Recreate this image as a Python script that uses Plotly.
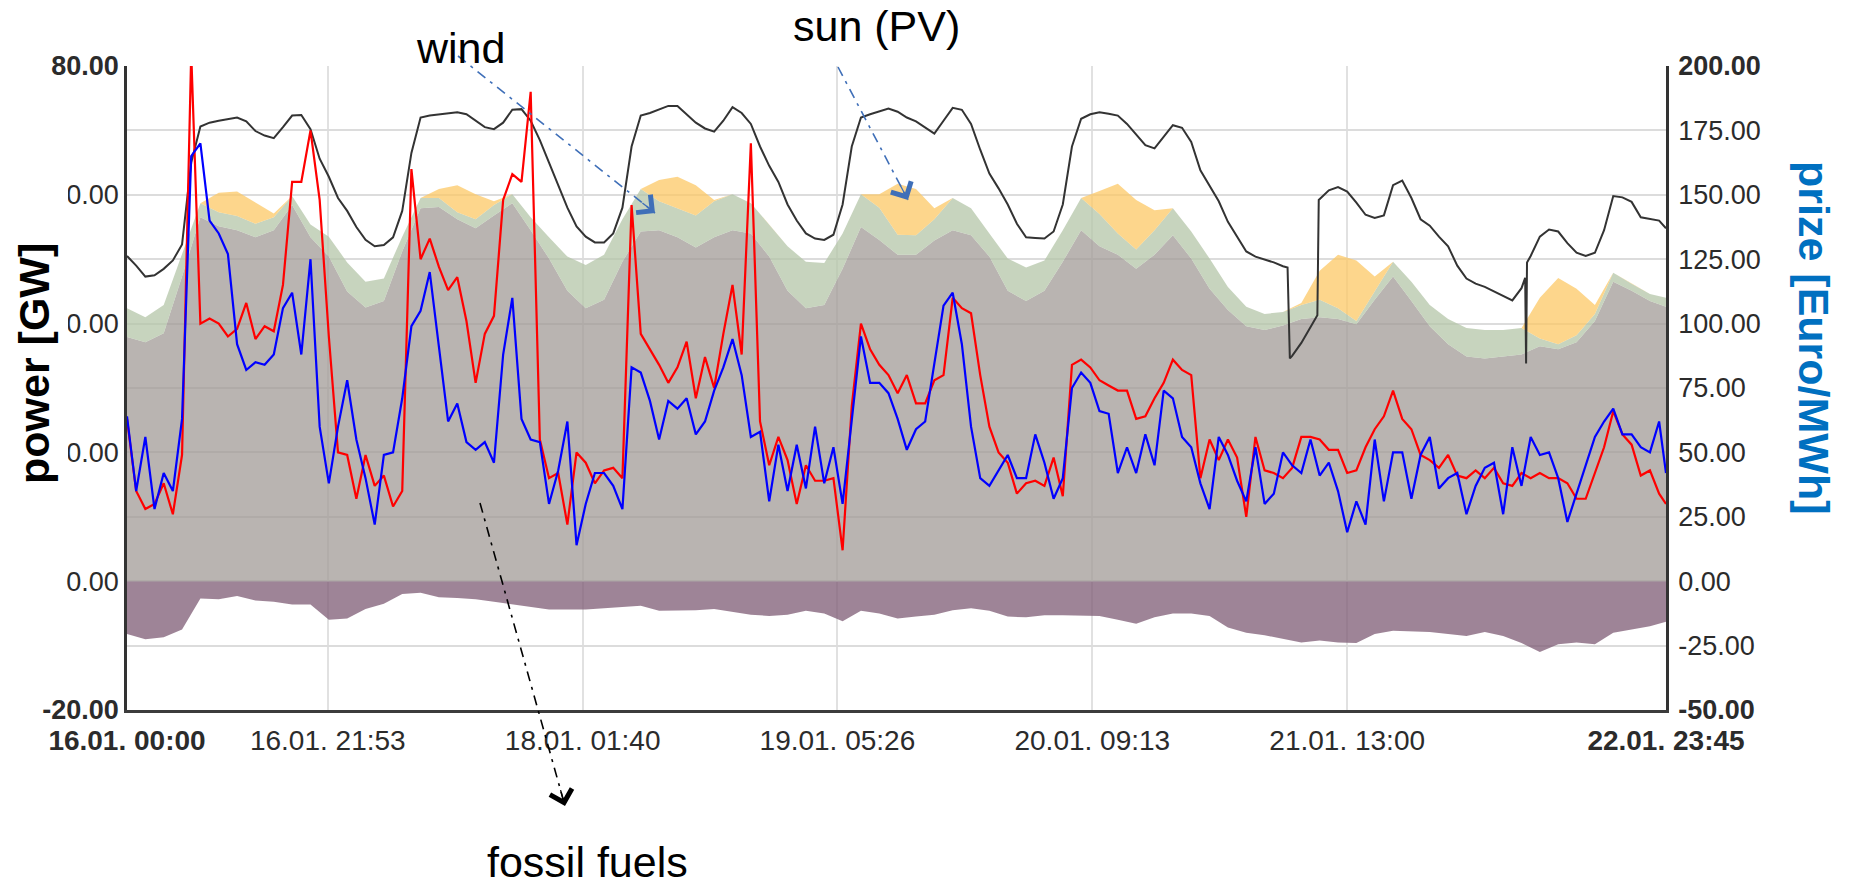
import pandas as pd
import plotly.graph_objects as go

# ---------------- data ----------------
START = pd.Timestamp("2018-01-16 00:00")

# 2-hourly grid for the generation / exchange areas (hours after start)
area_hours = list(range(0, 168, 2)) + [167.75]

fossil_gw = [37.9, 37.1, 38.5, 47.3, 56.5, 55.1, 54.5, 53.4, 54.5, 58.4, 53.4, 50.4, 45.0, 42.5, 43.5, 51.2,
             57.9, 58.1, 56.2, 54.8, 56.8, 58.7, 54.5, 50.1, 45.1, 42.4, 43.7, 49.6, 54.3, 54.5, 53.4, 51.8,
             53.4, 54.5, 54.0, 50.4, 45.1, 42.4, 42.9, 48.5, 55.0, 53.0, 50.7, 50.7, 52.9, 54.5, 53.7, 50.4,
             45.1, 43.5, 45.1, 49.6, 54.5, 52.0, 50.7, 48.5, 50.7, 53.7, 50.1, 45.4, 42.1, 39.6, 39.0, 39.7,
             40.7, 41.0, 40.7, 39.9, 43.7, 47.3, 43.5, 39.6, 36.8, 34.9, 34.6, 34.9, 35.2, 36.5, 36.0, 37.1,
             40.4, 46.5, 45.1, 43.5, 42.6]

wind_gw = [4.5, 3.9, 4.4, 3.4, 2.2, 2.2, 2.2, 2.1, 2.0, 1.4, 2.0, 3.1, 4.5, 4.0, 3.5, 2.3,
           1.6, 1.4, 1.1, 1.4, 1.6, 1.4, 2.0, 3.3, 5.3, 6.7, 7.0, 6.6, 6.6, 4.5, 4.5, 5.0,
           5.6, 5.6, 4.7, 5.0, 6.9, 7.2, 6.5, 5.5, 5.1, 5.0, 3.1, 3.0, 3.3, 5.0, 4.2, 3.6,
           5.0, 5.2, 4.7, 4.9, 5.0, 5.0, 3.3, 3.0, 3.8, 4.2, 4.2, 4.7, 3.6, 3.0, 2.5, 2.1,
           2.2, 2.7, 1.7, 0.5, 1.4, 2.3, 3.0, 3.3, 3.9, 4.4, 4.4, 4.1, 4.1, 1.2, 0.8, 1.1,
           1.1, 1.4, 1.1, 1.1, 1.4]

solar_gw = [0, 0, 0, 0, 0.0, 3.0, 3.8, 3.3, 0.6, 0, 0, 0, 0, 0, 0, 0,
            0, 1.4, 4.2, 3.9, 0.6, 0, 0, 0, 0, 0, 0, 0, 0, 3.3, 4.9, 4.7,
            0.2, 0, 0, 0, 0, 0, 0, 0, 0, 2.1, 7.9, 7.2, 1.7, 0, 0, 0,
            0, 0, 0, 0, 0, 3.6, 7.7, 7.7, 3.1, 0, 0, 0, 0, 0, 0, 0,
            0.3, 4.5, 8.3, 9.4, 2.2, 0, 0, 0, 0, 0, 0, 0, 0, 6.3, 10.3, 7.2,
            1.4, 0, 0, 0, 0]

export_gw = [-8.2, -9.0, -8.7, -7.5, -2.7, -2.8, -2.3, -3.0, -3.2, -3.6, -3.6, -6.0, -5.8, -4.3, -3.5, -2.0,
             -1.8, -2.5, -2.6, -2.8, -3.2, -3.6, -3.9, -4.4, -4.4, -4.4, -4.2, -4.0, -3.8, -4.6, -4.6, -4.5,
             -4.3, -4.7, -5.2, -5.4, -5.2, -4.6, -5.0, -6.2, -4.6, -5.0, -5.8, -5.5, -5.2, -4.5, -4.2, -4.6,
             -5.5, -5.6, -5.3, -5.3, -5.3, -5.4, -6.0, -6.6, -5.6, -5.0, -5.0, -5.4, -7.2, -8.0, -8.4, -8.9,
             -9.5, -9.2, -9.5, -9.6, -8.2, -7.7, -7.8, -7.9, -8.2, -8.5, -7.9, -8.5, -9.6, -11.0, -9.8, -9.5,
             -9.8, -8.0, -7.5, -7.0, -6.3]

# load (black line), hours after start
load_hours = (list(range(0, 127)) + [126.5, 126.75, 127, 128, 129, 129.75, 129.9]
              + list(range(131, 153)) + [152.4, 152.5, 152.6] + list(range(153, 168)) + [167.75])
load_gw = [50.5, 49.0, 47.3, 47.5, 48.5, 49.8, 52.3, 65.0, 70.6, 71.2, 71.5, 71.8, 72.0, 71.4, 69.9, 69.2,
           68.8, 70.5, 72.3, 72.4, 70.2, 65.6, 62.8, 59.5, 57.5, 55.0, 53.0, 52.0, 52.2, 53.4, 57.5, 66.5,
           72.0, 72.3, 72.5, 72.7, 72.8, 72.5, 71.5, 70.5, 70.2, 71.2, 73.2, 73.3, 71.5, 68.5, 65.0, 61.5,
           58.0, 55.1, 53.5, 52.6, 52.6, 54.0, 58.0, 67.5, 72.3, 72.7, 73.2, 73.8, 73.8, 72.5, 71.2, 70.3,
           69.8, 71.5, 73.6, 72.7, 71.0, 67.5, 64.5, 62.0, 58.5, 56.0, 54.0, 53.2, 53.0, 53.8, 58.5, 67.5,
           72.0, 72.5, 73.0, 73.4, 72.9, 72.0, 71.4, 70.4, 69.5, 71.5, 73.5, 73.2, 71.0, 67.0, 63.3, 61.0,
           58.5, 55.5, 53.4, 53.3, 53.2, 54.3, 58.5, 67.5, 71.8, 72.5, 72.8, 72.6, 72.3, 71.0, 69.3, 67.7,
           67.2, 69.0, 70.8, 70.4, 68.2, 63.8, 61.5, 59.0, 55.8, 53.5, 51.2, 50.4, 50.0, 49.5, 48.9,
           48.7, 34.6, 35.0, 37.0, 39.5, 41.3, 59.2,
           60.7, 61.2, 60.5, 58.8, 56.9, 56.4, 56.8, 61.5, 62.2, 59.5, 56.2, 55.2, 53.5, 52.0, 49.0, 47.0,
           46.2, 45.7, 45.0, 44.2, 43.6, 45.5,
           47.1, 33.8, 49.5,
           50.5, 53.5, 54.6, 54.3, 52.5, 51.0, 50.5, 51.0, 54.5, 59.8, 59.6, 58.9, 56.5, 56.3, 56.0, 54.8]

# prices (Euro/MWh), hourly
price_hours = list(range(0, 168)) + [167.75]
price_red = [63, 35, 28, 30, 38, 26, 49, 205, 100, 102, 100, 95, 98, 108, 94, 99,
             97, 115, 155, 155, 175, 148, 95, 50, 49, 32, 49, 37, 41, 29, 35, 160,
             125, 133, 122, 113, 118, 101, 77, 96, 103, 148, 158, 155, 190, 55, 40, 42,
             22, 50, 46, 38, 43, 44, 40, 146, 96, 90, 84, 77, 83, 93, 71, 87,
             75, 96, 115, 88, 170, 62, 45, 56, 47, 30, 45, 39, 39, 40, 12, 68,
             100, 90, 84, 80, 73, 80, 69, 69, 78, 80, 110, 106, 104, 80, 60, 50,
             46, 34, 38, 39, 37, 48, 33, 84, 86, 83, 78, 76, 74, 74, 63, 64,
             71, 77, 86, 82, 80, 40, 55, 47, 55, 48, 25, 56, 43, 42, 40, 44,
             56, 56, 55, 51, 51, 42, 43, 52, 59, 64, 74, 63, 59, 49, 47, 44,
             49, 41, 40, 43, 40, 44, 38, 37, 42, 40, 42, 40, 40, 38, 32, 32,
             42, 52, 66, 57, 53, 41, 43, 34, 30]
price_blue = [64, 35, 56, 28, 42, 35, 63, 165, 170, 140, 135, 127, 92, 82, 85, 84,
              88, 106, 112, 88, 125, 60, 38, 60, 78, 55, 40, 22, 49, 50, 71, 99,
              105, 120, 91, 62, 69, 54, 51, 54, 46, 88, 110, 63, 55, 54, 30, 43,
              62, 14, 30, 42, 42, 37, 28, 83, 81, 70, 55, 70, 67, 71, 57, 62,
              74, 83, 94, 80, 56, 58, 31, 53, 35, 53, 36, 60, 38, 52, 30, 63,
              95, 77, 77, 73, 63, 51, 59, 62, 85, 107, 112, 92, 60, 40, 37, 43,
              49, 40, 40, 57, 46, 32, 40, 75, 81, 77, 66, 65, 42, 52, 42, 57,
              45, 74, 71, 56, 52, 38, 28, 56, 49, 39, 31, 52, 30, 34, 50, 45,
              42, 55, 41, 46, 35, 19, 31, 22, 55, 31, 50, 50, 32, 49, 56, 36,
              40, 42, 26, 37, 44, 46, 26, 52, 37, 56, 49, 50, 40, 23, 34, 45,
              56, 62, 67, 57, 57, 52, 50, 62, 42]

# axis ticks
x_tick_times = ["2018-01-16 00:00", "2018-01-16 21:53", "2018-01-18 01:40", "2018-01-19 05:26",
                "2018-01-20 09:13", "2018-01-21 13:00", "2018-01-22 23:45"]
x_tick_text = ["<b>16.01. 00:00</b>", "16.01. 21:53", "18.01. 01:40", "19.01. 05:26",
               "20.01. 09:13", "21.01. 13:00", "<b>22.01. 23:45</b>"]
gw_ticks = [-20, 0, 20, 40, 60, 80]
gw_tick_text = ["<b>-20.00</b>", "0.00", "20.00", "40.00", "60.00", "<b>80.00</b>"]
eur_ticks = [-50, -25, 0, 25, 50, 75, 100, 125, 150, 175, 200]
eur_tick_text = ["<b>-50.00</b>", "-25.00", "0.00", "25.00", "50.00", "75.00", "100.00",
                 "125.00", "150.00", "175.00", "<b>200.00</b>"]

# ---------------- figure ----------------
def to_time(hours):
    return START + pd.to_timedelta(hours, unit="h")

t_area = to_time(area_hours)
t_load = to_time(load_hours)
t_price = to_time(price_hours)

fig = go.Figure()
fig.add_trace(go.Scatter(x=t_area, y=export_gw, mode="lines", line=dict(width=0),
                         fill="tozeroy", fillcolor="rgba(126,91,116,0.75)", hoverinfo="skip"))
fig.add_trace(go.Scatter(x=t_area, y=fossil_gw, mode="lines", line=dict(width=0), stackgroup="gen",
                         fillcolor="rgba(162,155,151,0.75)", name="fossil fuels"))
fig.add_trace(go.Scatter(x=t_area, y=wind_gw, mode="lines", line=dict(width=0), stackgroup="gen",
                         fillcolor="rgba(180,198,168,0.75)", name="wind"))
fig.add_trace(go.Scatter(x=t_area, y=solar_gw, mode="lines", line=dict(width=0), stackgroup="gen",
                         fillcolor="rgba(252,200,102,0.75)", name="sun (PV)"))
fig.add_trace(go.Scatter(x=t_load, y=load_gw, mode="lines", line=dict(color="#333333", width=2),
                         name="load"))
fig.add_trace(go.Scatter(x=t_price, y=price_red, mode="lines", line=dict(color="#ff0000", width=2.2),
                         yaxis="y2", name="price 1"))
fig.add_trace(go.Scatter(x=t_price, y=price_blue, mode="lines", line=dict(color="#0000ff", width=2.2),
                         yaxis="y2", name="price 2"))

W, H = 1849, 889
L, R, T, B = 127, 183, 66, 179
PW, PH = W - L - R, H - T - B

def px(x):
    return (x - L) / PW

def py(y):
    return (H - B - y) / PH

TICKFONT = dict(family="Liberation Sans, Arial, sans-serif", size=27, color="#2b2b2b")

fig.update_layout(
    width=W, height=H,
    margin=dict(l=L, r=R, t=T, b=B, pad=0),
    plot_bgcolor="white", paper_bgcolor="white",
    showlegend=False,
    font=TICKFONT,
    xaxis=dict(type="date", range=[x_tick_times[0], x_tick_times[-1]],
               tickvals=x_tick_times, ticktext=x_tick_text,
               tickfont=dict(family="Liberation Sans, Arial, sans-serif", size=28, color="#2b2b2b"),
               showgrid=True, gridcolor="#e1e1e1", gridwidth=1.5,
               showline=True, linecolor="#3c3c3c", linewidth=3, zeroline=False,
               ticks="", ticklabelstandoff=3),
    yaxis=dict(range=[-20, 80], tickvals=gw_ticks, ticktext=gw_tick_text, tickfont=TICKFONT,
               showgrid=False, showline=True, linecolor="#333333", linewidth=2.5,
               zeroline=False, ticks="", ticklabelstandoff=0),
    yaxis2=dict(overlaying="y", side="right", range=[-50, 200], tickvals=eur_ticks,
                ticktext=eur_tick_text, tickfont=TICKFONT,
                showgrid=True, gridcolor="#dcdcdc", gridwidth=1.5,
                showline=True, linecolor="#333333", linewidth=2.5, zeroline=False,
                ticks="", ticklabelstandoff=4),
)

# white box behind the left title (hides the first digit of the inner tick labels)
fig.add_shape(type="rect", xref="paper", yref="paper", x0=px(0), x1=px(68), y0=py(470), y1=py(172),
              fillcolor="white", line=dict(width=0), layer="above")

ANN_FONT = dict(family="Liberation Sans, Arial, sans-serif", size=43, color="#000000")
CENTER = dict(xanchor="center", yanchor="middle", showarrow=False)
fig.add_annotation(xref="paper", yref="paper", x=px(34), y=py(364), text="<b>power [GW]</b>",
                   textangle=-90, **CENTER,
                   font=dict(family="Liberation Sans, Arial, sans-serif", size=43, color="#000000"))
fig.add_annotation(xref="paper", yref="paper", x=px(1814), y=py(338), text="<b>prize [Euro/MWh]</b>",
                   textangle=90, **CENTER,
                   font=dict(family="Liberation Sans, Arial, sans-serif", size=43, color="#0070c0"))

fig.add_annotation(xref="paper", yref="paper", x=px(460), y=py(48), text="wind", font=ANN_FONT, **CENTER)
fig.add_annotation(xref="paper", yref="paper", x=px(876), y=py(26), text="sun (PV)", font=ANN_FONT, **CENTER)
fig.add_annotation(xref="paper", yref="paper", x=px(587), y=py(862), text="fossil fuels", font=ANN_FONT,
                   **CENTER)

# dash-dot pointer arrows
arrows = [((458, 56), (655, 213), "#3f6fb8"),
          ((838, 67), (908, 200), "#3f6fb8"),
          ((480, 503), (565, 806), "#000000")]
for (x0, y0), (x1, y1), col in arrows:
    fig.add_shape(type="line", xref="paper", yref="paper", x0=px(x0), y0=py(y0), x1=px(x1), y1=py(y1),
                  line=dict(color=col, width=1.6, dash="10px,6px,3px,6px"), layer="above")
    dx, dy = x1 - x0, y1 - y0
    n = (dx * dx + dy * dy) ** 0.5
    fig.add_annotation(xref="paper", yref="paper", x=px(x1), y=py(y1), text="",
                       showarrow=True, arrowhead=4, arrowsize=3.4, arrowwidth=1.3, arrowcolor=col,
                       ax=-dx / n * 18, ay=-dy / n * 18, standoff=0)

fig.write_html("out.html")
